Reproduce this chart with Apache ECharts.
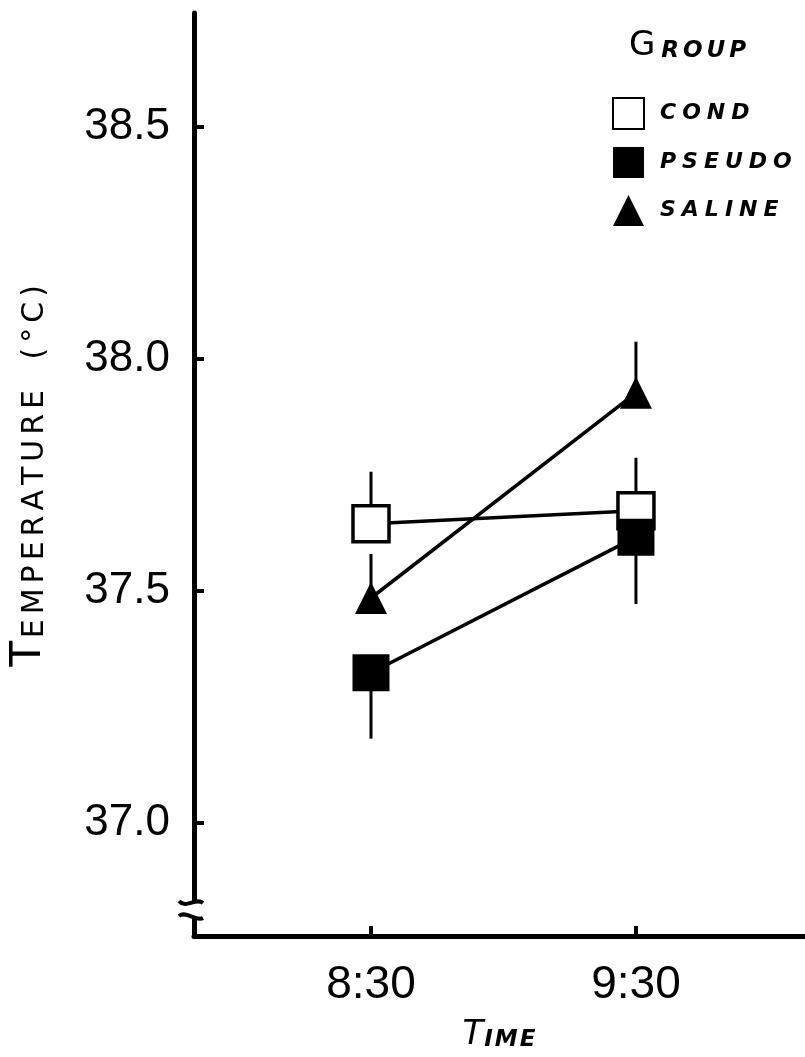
<!DOCTYPE html>
<html>
<head>
<meta charset="utf-8">
<script src="https://cdn.jsdelivr.net/npm/echarts@6/dist/echarts.min.js"></script>
<style>
html,body{margin:0;padding:0;background:#fff;}
#chart{width:805px;height:1057px;}
</style>
</head>
<body>
<div id="chart"></div>
<script>
// ---- data ----
const timeLabels = ['8:30', '9:30'];
const timePos = [0, 1];
const groups = ['COND', 'PSEUDO', 'SALINE'];
const condMean = [37.645, 37.673];
const condErr = [0.112, 0.114];
const pseudoMean = [37.324, 37.616];
const pseudoErr = [0.142, 0.144];
const salineMean = [37.485, 37.927];
const salineErr = [0.095, 0.110];
const yTicks = [37.0, 37.5, 38.0, 38.5];
const yRange = [36.757, 38.745];
const xRange = [-0.668, 1.638];

const chart = echarts.init(document.getElementById('chart'), null, {renderer: 'canvas'});

function pts(means) { return timePos.map((t, i) => [t, means[i]]); }
function bars(means, errs, dir) { return timePos.map((t, i) => [t, means[i], means[i] + dir * errs[i]]); }
// letter-spaced rich text: each character is its own token
function spaced(str, style) { return str.split('').map(c => '{' + style + '|' + c + '}').join(''); }

const errData = [].concat(bars(condMean, condErr, 1), bars(salineMean, salineErr, 1), bars(pseudoMean, pseudoErr, -1));

const font = 'Liberation Sans';
const letterFont = 'DejaVu Sans';

const option = {
  backgroundColor: '#fff',
  animation: false,
  title: {
    text: '{a|G}' + spaced('ROUP', 'b'),
    left: 624, top: 24,
    textStyle: {
      rich: {
        a: {fontSize: 34, fontFamily: letterFont, color: '#000', fontWeight: 'normal', padding: [0, 4, 0, 0]},
        b: {fontSize: 23, fontFamily: letterFont, fontStyle: 'italic', color: '#000', fontWeight: 'bold', verticalAlign: 'bottom', padding: [0, 2, 0, 2]}
      }
    }
  },
  legend: {
    orient: 'vertical', left: 607, top: 92,
    itemWidth: 31, itemHeight: 31, itemGap: 17,
    selectedMode: false,
    data: [
      {name: 'COND', icon: 'rect'},
      {name: 'PSEUDO', icon: 'rect'},
      {name: 'SALINE', icon: 'triangle'}
    ],
    formatter: name => spaced(name, 'l'),
    textStyle: {
      color: '#000', padding: [0, 0, 0, 8],
      rich: {l: {fontSize: 22, fontStyle: 'italic', fontWeight: 'bold', fontFamily: letterFont, color: '#000', padding: [0, 3, 0, 3]}}
    }
  },
  grid: {left: 190, right: 0, top: 13, bottom: 119, containLabel: false},
  xAxis: {
    type: 'value', min: xRange[0], max: xRange[1],
    name: '{a|T}' + spaced('IME', 'b'), nameLocation: 'middle', nameGap: 82,
    nameTextStyle: {
      rich: {
        a: {fontSize: 34, fontFamily: letterFont, fontStyle: 'italic', color: '#000'},
        b: {fontSize: 23, fontFamily: letterFont, fontStyle: 'italic', fontWeight: 'bold', color: '#000', verticalAlign: 'bottom', padding: [0, 1, 0, 1]}
      }
    },
    axisLine: {show: true, onZero: false, lineStyle: {color: '#000', width: 5}},
    axisTick: {show: true, inside: true, length: 10, customValues: timePos, lineStyle: {color: '#000', width: 4}},
    axisLabel: {customValues: timePos, formatter: v => timeLabels[Math.round(v)], fontSize: 46, fontFamily: font, color: '#000', margin: 26},
    splitLine: {show: false}
  },
  yAxis: {
    type: 'value', min: yRange[0], max: yRange[1],
    name: '{a|T}' + spaced('EMPERATURE', 'b') + '{s| }' + spaced('(°C)', 'b'), nameLocation: 'middle', nameGap: 144,
    nameTextStyle: {
      rich: {
        a: {fontSize: 42, fontFamily: letterFont, color: '#000'},
        b: {fontSize: 30, fontFamily: letterFont, color: '#000', verticalAlign: 'bottom', padding: [0, 2.5, 0, 2.5]},
        s: {fontSize: 30, fontFamily: letterFont, color: '#000', verticalAlign: 'bottom', padding: [0, 8, 0, 8]}
      }
    },
    axisLine: {show: true, onZero: false, lineStyle: {color: '#000', width: 5}},
    axisTick: {show: true, inside: true, length: 10, customValues: yTicks, lineStyle: {color: '#000', width: 4}},
    axisLabel: {customValues: yTicks, formatter: v => v.toFixed(1), fontSize: 44, fontFamily: font, color: '#000', margin: 24},
    splitLine: {show: false}
  },
  series: [
    {
      type: 'custom', name: 'err', z: 1, silent: true,
      renderItem: function (params, api) {
        const p1 = api.coord([api.value(0), api.value(1)]);
        const p2 = api.coord([api.value(0), api.value(2)]);
        return {type: 'line', shape: {x1: p1[0], y1: p1[1], x2: p2[0], y2: p2[1]}, style: {stroke: '#000', lineWidth: 3}};
      },
      data: errData
    },
    {
      name: 'COND', type: 'line', z: 2, data: pts(condMean),
      symbol: 'rect', symbolSize: 36,
      lineStyle: {color: '#000', width: 3.5},
      itemStyle: {color: '#fff', borderColor: '#000', borderWidth: 3.5}
    },
    {
      name: 'SALINE', type: 'line', z: 3, data: pts(salineMean),
      symbol: 'triangle', symbolSize: [32, 32],
      lineStyle: {color: '#000', width: 3.5},
      itemStyle: {color: '#000', borderColor: '#000', borderWidth: 0}
    },
    {
      name: 'PSEUDO', type: 'line', z: 4, data: pts(pseudoMean),
      symbol: 'rect', symbolSize: 37,
      lineStyle: {color: '#000', width: 3.5},
      itemStyle: {color: '#000', borderColor: '#000', borderWidth: 0}
    }
  ]
};
chart.setOption(option);

// axis-break mark on the y axis, positioned through the axis scales
const bx = chart.convertToPixel({xAxisIndex: 0}, xRange[0]);
const byTop = chart.convertToPixel({yAxisIndex: 0}, 36.828);
const byBot = chart.convertToPixel({yAxisIndex: 0}, 36.800);
chart.setOption({
  graphic: [
    {type: 'rect', shape: {x: bx - 6, y: byTop, width: 12, height: byBot - byTop}, style: {fill: '#fff'}, z: 100},
    {type: 'bezierCurve', shape: {x1: bx - 15, y1: byTop - 2, x2: bx + 9, y2: byTop, cpx1: bx - 8, cpy1: byTop + 6, cpx2: bx + 2, cpy2: byTop - 6}, style: {stroke: '#000', lineWidth: 4, fill: null}, z: 101},
    {type: 'bezierCurve', shape: {x1: bx - 15, y1: byBot, x2: bx + 9, y2: byBot + 2, cpx1: bx - 8, cpy1: byBot - 6, cpx2: bx + 2, cpy2: byBot + 6}, style: {stroke: '#000', lineWidth: 4, fill: null}, z: 101}
  ]
});
</script>
</body>
</html>
